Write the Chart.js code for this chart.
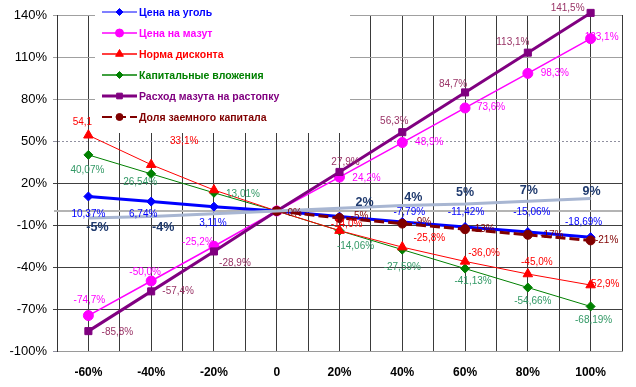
<!DOCTYPE html>
<html lang="ru">
<head>
<meta charset="UTF-8">
<title>Анализ чувствительности</title>
<script src="https://cdn.jsdelivr.net/npm/chart.js"></script>
<style>
  body { margin: 0; background: #fff; }
  #chart { display: block; }
</style>
</head>
<body>
<canvas id="chart" width="636" height="387"></canvas>
<script>
  // change of the factor, %
  const changes = [-60, -40, -20, 0, 20, 40, 60, 80, 100];
  const xTickLabels = ['-60%', '-40%', '-20%', '0', '20%', '40%', '60%', '80%', '100%'];

  // change of the result, %
  const coalPrice = [10.37, 6.74, 3.11, 0, -4.0, -7.79, -11.42, -15.06, -18.69];
  const fuelOilPrice = [-74.7, -50.0, -25.2, 0, 24.2, 48.9, 73.6, 98.3, 123.1];
  const discountRate = [54.1, 33.1, 15.0, 0, -14.0, -25.8, -36.0, -45.0, -52.9];
  const capitalInvest = [40.07, 26.54, 13.01, 0, -14.06, -27.59, -41.13, -54.66, -68.19];
  const startupFuel = [-85.8, -57.4, -28.9, 0, 27.9, 56.3, 84.7, 113.1, 141.5];
  const loanShare = [null, null, null, 0, -5, -9, -13, -17, -21];
  const shiftLine = [-5, -4, -2, 0, 2, 4, 5, 7, 9];

  // point labels as printed on the chart
  const coalLabels = ['10,37%', '6,74%', '3,11%', null, null, '-7,79%', '-11,42%', '-15,06%', '-18,69%'];
  const fuelOilLabels = ['-74,7%', '-50,0%', '-25,2%', null, '24,2%', '48,9%', '73,6%', '98,3%', '123,1%'];
  const discountLabels = ['54,1', '33,1%', null, null, '-14,0%', '-25,8%', '-36,0%', '-45,0%', '-52,9%'];
  const capitalLabels = ['40,07%', '26,54%', '13,01%', null, '-14,06%', '-27,59%', '-41,13%', '-54,66%', '-68,19%'];
  const startupLabels = ['-85,8%', '-57,4%', '-28,9%', null, '27,9%', '56,3%', '84,7%', '113,1%', '141,5%'];
  const loanLabels = [null, null, null, '0%', '-5%', '-9%', '-13%', '-17%', '-21%'];
  const shiftLabels = ['-5%', '-4%', null, null, '2%', '4%', '5%', '7%', '9%'];

  // where each label sits relative to its point (px)
  const coalOffsets = [[0, 18], [-8, 13], [-1, 17], null, null, [7, -10], [1, -15], [4, -20], [-7, -15]];
  const fuelOilOffsets = [[1, -15], [-6, -9], [-16, -4], null, [27, 1], [27, 0], [26, -1], [27, 0], [11, -1]];
  const discountOffsets = [[-6, -13], [33, -23], null, null, [7, -6], [27, -9], [19, -8], [9, -12], [13, -1]];
  const capitalOffsets = [[-1, 15], [-11, 8], [29, 1], null, [16, 16], [0, 18], [8, 13], [5, 14], [3, 14]];
  const startupOffsets = [[29, 1], [27, 0], [21, 12], null, [6, -10], [-8, -11], [-12, -8], [-15, -10], [-23, -5]];
  const loanOffsets = [null, null, null, [18, 2], [20, -2], [20, -1], [18, 0], [24, 0], [16, 0]];
  const shiftOffsets = [[9, 10], [12, 11], null, null, [25, -6], [11, -8], [0, -11], [1, -11], [1, -7]];

  function pts(values) {
    return values.map((v, i) => ({ x: changes[i], y: v }));
  }

  const datasets = [
    {
      label: 'Цена на уголь', data: pts(coalPrice),
      borderColor: '#0000ff', backgroundColor: '#0000ff', borderWidth: 3,
      pointStyle: 'rectRot', pointRadius: 4.5, pointBorderWidth: 1,
      labels: coalLabels, offsets: coalOffsets, labelColor: '#0000ff', legendWidth: 1, order: 2
    },
    {
      label: 'Цена на мазут', data: pts(fuelOilPrice),
      borderColor: '#ff00ff', backgroundColor: '#ff00ff', borderWidth: 1.5,
      pointStyle: 'circle', pointRadius: 5, pointBorderWidth: 1,
      labels: fuelOilLabels, offsets: fuelOilOffsets, labelColor: '#ff00ff', legendWidth: 1.5, order: 4
    },
    {
      label: 'Норма дисконта', data: pts(discountRate),
      borderColor: '#ff0000', backgroundColor: '#ff0000', borderWidth: 1,
      pointStyle: 'triangle', pointRadius: 5.5, pointBorderWidth: 1,
      labels: discountLabels, offsets: discountOffsets, labelColor: '#ff0000', legendWidth: 1.5, order: 5
    },
    {
      label: 'Капитальные вложения', data: pts(capitalInvest),
      borderColor: '#008000', backgroundColor: '#008000', borderWidth: 1,
      pointStyle: 'rectRot', pointRadius: 4.5, pointBorderWidth: 1,
      labels: capitalLabels, offsets: capitalOffsets, labelColor: '#339966', legendWidth: 1.5, order: 6
    },
    {
      label: 'Расход мазута на растопку', data: pts(startupFuel),
      borderColor: '#800080', backgroundColor: '#800080', borderWidth: 3,
      pointStyle: 'rect', pointRadius: 5, pointBorderWidth: 1,
      labels: startupLabels, offsets: startupOffsets, labelColor: '#993366', legendWidth: 3, order: 3
    },
    {
      label: 'Доля заемного капитала', data: pts(loanShare),
      borderColor: '#800000', backgroundColor: '#800000', borderWidth: 3, borderDash: [10, 4],
      pointStyle: 'circle', pointRadius: 4.5, pointBorderWidth: 1,
      labels: loanLabels, offsets: loanOffsets, labelColor: '#800000', legendWidth: 2, order: 1
    },
    {
      label: '', data: pts(shiftLine), hideInLegend: true,
      borderColor: '#a8b6d2', backgroundColor: '#a8b6d2', borderWidth: 3,
      pointRadius: 0,
      labels: shiftLabels, offsets: shiftOffsets, labelColor: '#1f3a6e',
      labelFont: 'bold 12.5px "Liberation Sans", Arial, sans-serif', order: 0
    }
  ];

  const labelPlugin = {
    id: 'pointLabels',
    afterDatasetsDraw(chart) {
      const ctx = chart.ctx;
      ctx.save();
      ctx.textAlign = 'center';
      ctx.textBaseline = 'middle';
      chart.data.datasets.forEach((ds, i) => {
        const meta = chart.getDatasetMeta(i);
        ctx.font = ds.labelFont || '10px "Liberation Sans", Arial, sans-serif';
        ctx.fillStyle = ds.labelColor;
        meta.data.forEach((el, j) => {
          const text = ds.labels[j];
          const off = ds.offsets[j];
          if (!text || !off) return;
          ctx.fillText(text, el.x + off[0], el.y + off[1]);
        });
      });
      ctx.restore();
    }
  };

  // zero line and the legend panel
  const legendBox = { left: 95, top: 0, right: 350, bottom: 133, lineX: 102, lineLen: 35, textX: 139, firstY: 12, rowGap: 21 };

  const backdropPlugin = {
    id: 'backdrop',
    beforeDatasetsDraw(chart) {
      const ctx = chart.ctx;
      const area = chart.chartArea;
      const y0 = chart.scales.y.getPixelForValue(0);
      ctx.save();
      ctx.strokeStyle = '#b4b4b4';
      ctx.lineWidth = 2;
      ctx.beginPath();
      ctx.moveTo(area.left - 3, y0);
      ctx.lineTo(area.right, y0);
      ctx.stroke();
      ctx.fillStyle = '#ffffff';
      ctx.fillRect(legendBox.left, legendBox.top, legendBox.right - legendBox.left, legendBox.bottom - legendBox.top);
      ctx.restore();
    },
    afterDatasetsDraw(chart) {
      const ctx = chart.ctx;
      ctx.save();
      ctx.textAlign = 'left';
      ctx.textBaseline = 'middle';
      ctx.font = 'bold 10.5px "Liberation Sans", Arial, sans-serif';
      let row = 0;
      chart.data.datasets.forEach(ds => {
        if (ds.hideInLegend) return;
        const y = legendBox.firstY + row * legendBox.rowGap;
        const x1 = legendBox.lineX;
        const x2 = x1 + legendBox.lineLen;
        ctx.strokeStyle = ds.borderColor;
        ctx.fillStyle = ds.backgroundColor;
        ctx.lineWidth = ds.legendWidth;
        ctx.setLineDash(ds.borderDash || []);
        ctx.beginPath();
        ctx.moveTo(x1, y);
        ctx.lineTo(x2, y);
        ctx.stroke();
        ctx.setLineDash([]);
        ctx.lineWidth = 1;
        Chart.helpers.drawPoint(ctx, {
          pointStyle: ds.pointStyle, radius: ds.pointRadius - 1, rotation: 0, borderWidth: 1
        }, (x1 + x2) / 2, y);
        ctx.fillStyle = ds.borderColor;
        ctx.fillText(ds.label, legendBox.textX, y + 1);
        row++;
      });
      ctx.restore();
    }
  };

  function tickValue(c) {
    return c.tick ? c.tick.value : null;
  }

  function yGridColor(c) {
    const v = tickValue(c);
    if (v === null) return '#333333';
    if (v >= 80) return '#a0a0a0';
    if (v === 50 || v === -100) return '#9090a0';
    return '#404040';
  }

  new Chart(document.getElementById('chart'), {
    type: 'line',
    data: { datasets: datasets },
    options: {
      responsive: false,
      animation: false,
      layout: { padding: { top: 15, right: 0, left: 0, bottom: 0 } },
      plugins: { legend: { display: false }, tooltip: { enabled: false } },
      elements: { line: { tension: 0, fill: false } },
      datasets: { line: { clip: false, spanGaps: true } },
      scales: {
        x: {
          type: 'linear',
          min: -70,
          max: 110,
          afterFit(scale) { scale.height = 36; },
          ticks: {
            stepSize: 10,
            padding: 14,
            autoSkip: false,
            maxRotation: 0,
            color: '#000',
            font: { family: '"Liberation Sans", Arial, sans-serif', size: 12, weight: 'bold' },
            callback(value) {
              const idx = changes.indexOf(value);
              return idx >= 0 ? xTickLabels[idx] : '';
            }
          },
          grid: { color: '#3a3a3a', lineWidth: 1, drawTicks: false },
          border: { color: '#9a9a9a', dash(c) { return c.tick ? [] : [2, 2]; } }
        },
        y: {
          min: -100,
          max: 140,
          afterFit(scale) { scale.width = 57; },
          ticks: {
            stepSize: 30,
            padding: 6,
            color: '#000',
            font: { family: '"Liberation Sans", Arial, sans-serif', size: 13 },
            callback(value) { return value + '%'; }
          },
          grid: { color: yGridColor, lineWidth: 1, tickLength: 4 },
          border: {
            color: '#333333',
            dash(c) {
              const v = tickValue(c);
              return (v === 50 || v === -100) ? [2, 2] : [];
            }
          }
        }
      }
    },
    plugins: [backdropPlugin, labelPlugin]
  });
</script>
</body>
</html>
